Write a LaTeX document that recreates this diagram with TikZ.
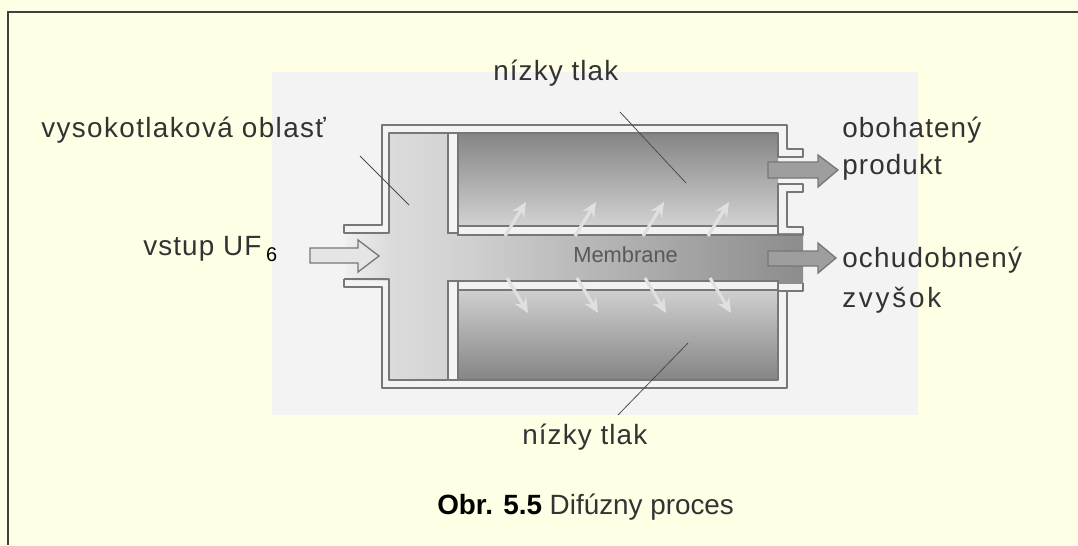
\documentclass[tikz,border=0pt]{standalone}
\usepackage{fontspec}
\setmainfont{Liberation Sans}
\usepackage{xcolor}
\usetikzlibrary{positioning,calc,arrows.meta}
\definecolor{paper}{HTML}{FFFFE6}
\definecolor{photo}{HTML}{F3F3F3}
\definecolor{wall}{HTML}{777777}
\definecolor{txt}{HTML}{333333}
\tikzset{
  lbl/.style={font=\fontsize{21pt}{25pt}\selectfont\addfontfeature{LetterSpace=#1}, text=txt, inner sep=0pt, anchor=base west},
  leader/.style={draw=black!70, line width=0.6pt},
  flow/.style={draw=wall, line width=1pt, fill=#1},
  leak/.style={draw=white!88!black, line width=2.4pt, -{Stealth[length=11pt,width=10pt]}}
}
\begin{document}
\begin{tikzpicture}[x=0.0265cm, y=-0.0265cm]
\useasboundingbox (0,0) rectangle (1078,545);
\fill[paper] (0,0) rectangle (1078,545);
\draw[black!75, line width=0.8pt] (8,545) -- (8,12) -- (1078,12);
\fill[photo] (272,72) rectangle (918,415);
% chambers
\path[left color=black!14, right color=black!17] (389,133) rectangle (448,380);
\path[left color=black!6, right color=black!14] (345,233) rectangle (389,280);
\path[top color=black!48, bottom color=black!18] (458,133) rectangle (778,225);
\path[top color=black!18, bottom color=black!48] (458,288) rectangle (778,380);
\path[left color=black!17, right color=black!45] (448,233) rectangle (803,283);
% housing
\draw[wall, line width=1pt, line join=round] (344,233) -- (344,225) -- (382,225) -- (382,125) -- (787,125) -- (787,149) -- (803,149) -- (803,157) -- (778,157) -- (778,133) -- (389,133) -- (389,233) -- cycle;
\draw[wall, line width=1pt, line join=round] (344,279) -- (389,279) -- (389,380) -- (778,380) -- (778,291) -- (803,291) -- (803,283);
\draw[wall, line width=1pt, line join=round] (344,279) -- (344,287) -- (382,287) -- (382,388) -- (787,388) -- (787,291);
\draw[wall, line width=1pt, line join=round] (803,184) -- (778,184) -- (778,235) -- (803,235) -- (803,227) -- (787,227) -- (787,192) -- (803,192) -- cycle;
\draw[wall, line width=1pt, fill=photo] (448,133) rectangle (458,233);
\draw[wall, line width=1pt, fill=photo] (448,281) rectangle (458,380);
\draw[wall, line width=0.8pt, fill=black!5] (458,226) rectangle (778,235);
\draw[wall, line width=0.8pt, fill=black!5] (458,281) rectangle (778,290);
% arrows through the membrane
\foreach \xa in {505,575,643,708}{
  \draw[leak] (\xa,236) -- ++(21,-34);
  \draw[leak] (\xa+2,278) -- ++(21,35);
}
% in and out
\draw[flow=black!10] (310,248) -- (358,248) -- (358,240) -- (379,256) -- (358,272) -- (358,263) -- (310,263) -- cycle;
\draw[flow=black!38] (768,162) -- (818,162) -- (818,155) -- (838,170) -- (818,187) -- (818,178) -- (768,178) -- cycle;
\draw[flow=black!38] (768,251) -- (818,251) -- (818,243) -- (836,258) -- (818,273) -- (818,266) -- (768,266) -- cycle;
% labels
\node[lbl=5] (high) at (41,137) {vysokotlaková oblasť};
\node[lbl=4] (lowtop) at (493,80) {nízky tlak};
\node[lbl=4] (lowbot) at (522,444) {nízky tlak};
\node[lbl=4] (feed) at (143,255) {vstup UF\,\raisebox{-5pt}{\fontsize{15pt}{15pt}\selectfont\textcolor{black}{6}}};
\node[lbl=0, font=\fontsize{16.5pt}{16pt}\selectfont, text=black!65] (memb) at (573,262) {Membrane};
\node[lbl=4] (rich) at (842,137) {obohatený};
\node[lbl=4] (richb) at (842,174) {produkt};
\node[lbl=4.5] (poor) at (842,267) {ochudobnený};
\node[lbl=10] (poorb) at (842,307) {zvyšok};
\node[lbl=0] (cap) at (437,514) {\textcolor{black}{\textbf{Obr. 5.5}} Difúzny proces};
% leader lines
\coordinate (hleadA) at (360,156);
\coordinate (hleadB) at (409,205);
\coordinate (tleadA) at (620,112);
\coordinate (tleadB) at (686,183);
\coordinate (bleadA) at (688,343);
\coordinate (bleadB) at (618,415);
\draw[leader] (hleadA) -- (hleadB);
\draw[leader] (tleadA) -- (tleadB);
\draw[leader] (bleadA) -- (bleadB);
\end{tikzpicture}
\end{document}
